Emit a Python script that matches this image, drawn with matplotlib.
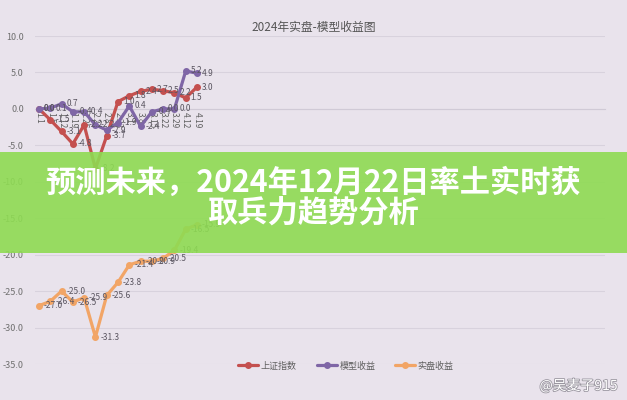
import matplotlib
matplotlib.use('Agg')
import matplotlib.pyplot as plt
import matplotlib.patheffects as pe
from matplotlib.patches import Rectangle

plt.rcParams['font.family'] = ['Noto Sans CJK SC', 'DejaVu Sans']
plt.rcParams['axes.unicode_minus'] = False

# weekly dates, 2024
dates = ["1.1", "1.5", "1.12", "1.19", "1.26", "2.2", "2.8", "2.23",
         "3.1", "3.8", "3.15", "3.22", "3.29", "4.12", "4.19"]
# cumulative returns (%)
sh_index = [0.0, -1.5, -3.1, -4.8, -2.2, -8.2, -3.7, 1.0,
            1.8, 2.4, 2.7, 2.5, 2.2, 1.5, 3.0]
model = [0.0, 0.1, 0.7, -0.4, -0.4, -2.2, -2.9, -1.9,
         0.4, -2.4, -0.4, 0.0, 0.0, 5.2, 4.9]
real = [-27.0, -26.4, -25.0, -26.5, -25.9, -31.3, -25.6, -23.8,
        -21.4, -20.9, -20.9, -20.5, -19.4, -16.5, -15.9]
series_names = ["上证指数", "模型收益", "实盘收益"]
series_colors = ["#c4504f", "#7f66a6", "#f2a566"]

bg = "#e9e3ec"
fig = plt.figure(figsize=(6.27, 4.0), dpi=100, facecolor=bg)
ax = fig.add_axes([35 / 627, 36 / 400, 570 / 627, 328 / 400], facecolor=bg)

x = list(range(len(dates)))
for vals, name, col in zip([sh_index, model, real], series_names, series_colors):
    ax.plot(x, vals, color=col, lw=2.3, marker='o', ms=4, label=name,
            solid_capstyle='round', zorder=3)
    for i, v in zip(x, vals):
        ax.annotate(f"{v:.1f}", (i, v), xytext=(3.5, 0), textcoords='offset points',
                    va='center', ha='left', fontsize=6, color='#5a5560', zorder=4)

ax.set_xlim(-0.354, 50.15)
ax.set_ylim(-35, 10)
for s in ['top', 'right', 'left']:
    ax.spines[s].set_visible(False)
# axis crosses at zero, like the excel chart
ax.spines['bottom'].set_position(('data', 0))
ax.spines['bottom'].set_color('#d0cad6')

ax.set_yticks(range(-35, 11, 5))
ax.set_yticklabels([f"{t:.1f}" for t in range(-35, 11, 5)], fontsize=6.5, color='#707070')
ax.grid(axis='y', color='#d8d2dd', lw=0.8)
ax.set_axisbelow(True)
ax.tick_params(axis='y', length=0, pad=8)

ax.set_xticks(x)
ax.set_xticklabels(dates, rotation=270, fontsize=6, color='#606060')
ax.tick_params(axis='x', length=0, pad=2)

fig.text(0.5, 1 - 27 / 400, "2024年实盘-模型收益图", ha='center', va='center',
         fontsize=8.5, color='#555555')

leg = fig.legend(loc='center', bbox_to_anchor=(346 / 627, 1 - 366 / 400), ncol=3,
                 frameon=False, fontsize=6.5, handlelength=2.2, columnspacing=2.2,
                 handletextpad=0.3)
for t in leg.get_texts():
    t.set_color('#606060')

# green banner on top
fig.patches.append(Rectangle((0, 1 - 253 / 400), 1, 101 / 400, transform=fig.transFigure,
                             facecolor='#8edb52', alpha=0.9, zorder=10))
fig.text(0.5, 1 - 183 / 400, "预测未来，2024年12月22日率土实时获", ha='center', va='center',
         fontsize=21.8, color='white', fontweight='heavy', zorder=11)
fig.text(0.5, 1 - 214 / 400, "取兵力趋势分析", ha='center', va='center',
         fontsize=21.8, color='white', fontweight='heavy', zorder=11)

# watermark
fig.text(0.985, 1 - 386 / 400, "@吴麦子915", ha='right', va='center', fontsize=10,
         color='white', zorder=11,
         path_effects=[pe.withStroke(linewidth=1.2, foreground='#9a96a0')])

fig.savefig('out.png', dpi=100, facecolor=bg)
